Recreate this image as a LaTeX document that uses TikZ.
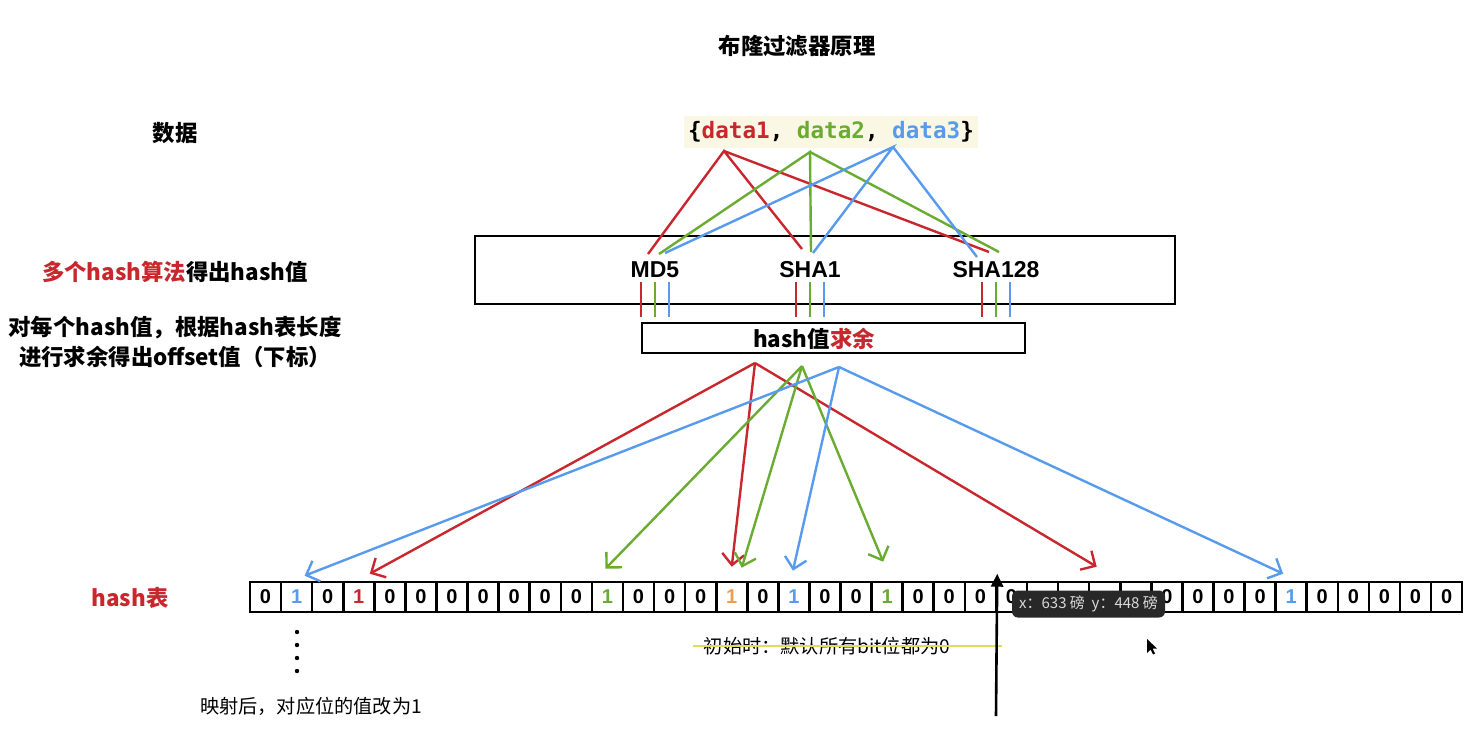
\documentclass[tikz,border=0pt]{standalone}
\usepackage{fontspec}
\setmainfont{Noto Sans CJK SC}
\setmonofont{DejaVu Sans Mono}
\newfontfamily\arial{Liberation Sans}
\usetikzlibrary{arrows.meta}

\definecolor{hred}{RGB}{200,40,45}
\definecolor{hgreen}{RGB}{106,172,50}
\definecolor{hblue}{RGB}{88,155,238}
\definecolor{horange}{RGB}{232,160,80}
\definecolor{hbeige}{RGB}{250,247,228}
\definecolor{hyellow}{RGB}{222,222,90}
\definecolor{htip}{RGB}{40,40,40}

\begin{document}
\begin{tikzpicture}[x=0.5pt, y=-0.5pt, % 1 unit = 1 px of the screenshot
	every node/.style={inner sep=0pt},
	lbl/.style={font=\fontsize{11.2}{15}\selectfont\bfseries},
	note/.style={font=\fontsize{9.6}{11}\selectfont},
	algo/.style={font=\arial\fontsize{11.5}{13}\selectfont\bfseries},
	box/.style={draw, line width=0.7pt},
	cell/.style={draw, line width=1.3pt, minimum width=15.54pt, minimum height=15pt, font=\arial\fontsize{10}{12}\selectfont\bfseries},
	wire/.style={line width=1.2pt},
	hit/.style={line width=1.2pt, -{Straight Barb[length=5.5pt, width=11pt]}}
]

	\useasboundingbox (0,0) rectangle (1468,730);

	\node [lbl] (title) at (797,46) {布隆过滤器原理};

	\node [lbl] (datalbl) at (175,133) {数据};
	\node [lbl] (multilbl) at (175,272) {\textcolor{hred}{多个hash算法}得出hash值};
	\node [lbl, align=center] (modlbl) at (175,342) {对每个hash值，根据hash表长度\\进行求余得出offset值（下标）};
	\node [lbl, text=hred] (tablelbl) at (130,598) {hash表};

	\node [fill=hbeige, inner xsep=2pt, inner ysep=3pt, font=\ttfamily\bfseries\fontsize{11.3}{13}\selectfont] (set) at (831,132)
		{\{\textcolor{hred}{data1}, \textcolor{hgreen}{data2}, \textcolor{hblue}{data3}\}};

	\node [box, minimum width=350pt, minimum height=34pt] (hashbox) at (825,270) {};
	\node [algo] (md5) at (655,270) {MD5};
	\node [algo] (sha1) at (810,270) {SHA1};
	\node [algo] (sha128) at (996,270) {SHA128};

	\node [box, minimum width=191.5pt, minimum height=15pt] (modbox) at (833.5,338) {};
	\node [lbl] (modtxt) at (814,339) {hash值\textcolor{hred}{求余}};

	\coordinate (d1) at (724,151);
	\coordinate (d2) at (810,152);
	\coordinate (d3) at (893,147);

	\draw [wire, hred] ([shift={(-7,-16)}]md5.center) -- (d1) -- ([shift={(-8,-21)}]sha1.center) (d1) -- ([shift={(-7,-18)}]sha128.center);
	\draw [wire, hgreen] ([shift={(4,-16)}]md5.center) -- (d2) -- ([shift={(1,-18)}]sha1.center) (d2) -- ([shift={(3,-18)}]sha128.center);
	\draw [wire, hblue] ([shift={(10,-17)}]md5.center) -- (d3) -- ([shift={(3,-17)}]sha1.center) (d3) -- ([shift={(-19,-13)}]sha128.center);

	\foreach \a in {md5,sha1,sha128} {
		\draw [wire, hred] ([shift={(-14,12)}]\a.center) -- ++(0,35);
		\draw [wire, hgreen] ([shift={(0,12)}]\a.center) -- ++(0,35);
		\draw [wire, hblue] ([shift={(14,12)}]\a.center) -- ++(0,35);
	}

	% cells 26-29 lie under the tooltip
	\foreach \c/\v [count=\i] in {black/0,hblue/1,black/0,hred/1,black/0,black/0,black/0,black/0,black/0,black/0,
		black/0,hgreen/1,black/0,black/0,black/0,horange/1,black/0,hblue/1,black/0,black/0,
		hgreen/1,black/0,black/0,black/0,black/0,black/,black/,black/,black/,black/0,
		black/0,black/0,black/0,hblue/1,black/0,black/0,black/0,black/0,black/0}
		\node [cell, text=\c] (b\i) at ({250+31.08*(\i-0.5)},597) {\v};

	\coordinate (r0) at (755,363);
	\coordinate (g0) at (802,366);
	\coordinate (u0) at (839,367);

	\draw [hit, hred] (r0) -- ([shift={(11,-7)}]b4.north);
	\draw [hit, hred] (r0) -- ([shift={(0,-14)}]b16.north);
	\draw [hit, hred] (r0) -- ([shift={(-8,-14)}]b28.north);

	\draw [hit, hgreen] (g0) -- ([shift={(-2,-12)}]b12.north);
	\draw [hit, hgreen] (g0) -- ([shift={(10,-13)}]b16.north);
	\draw [hit, hgreen] (g0) -- ([shift={(-4,-19)}]b21.north);

	\draw [hit, hblue] (u0) -- ([shift={(8,-5)}]b2.north);
	\draw [hit, hblue] (u0) -- ([shift={(-1,-10)}]b18.north);
	\draw [hit, hblue] (u0) -- ([shift={(-8,-7)}]b34.north);

	\foreach \y in {632,645,658,671}
		\fill (297,\y) circle (1.1pt);

	\node [note] (after) at (311,706) {映射后，对应位的值改为1};
	\node [note] (init) at (827,646) {初始时：默认所有bit位都为0};
	\draw [hyellow, line width=0.8pt] ([xshift=-5pt]init.west) -- ([xshift=25.5pt]init.east);

	\coordinate (ptr) at (996,716);
	\draw [line width=1.3pt, -{Triangle[length=6.5pt, width=6pt]}] (ptr) -- ([yshift=3.5pt]b24.north east);

	\node [fill=htip, rounded corners=3pt, minimum width=76.5pt, minimum height=13.5pt, text=white!85!black, font=\fontsize{7.5}{8}\selectfont] (tip) at (1088.5,604)
		{x：633 磅\ \ y：448 磅};

	\fill (1147,639) -- (1147,653) -- (1150.5,649.5) -- (1153,654.5) -- (1155,653.5) -- (1152.5,648.5) -- (1157,648.5) -- cycle;

\end{tikzpicture}
\end{document}
